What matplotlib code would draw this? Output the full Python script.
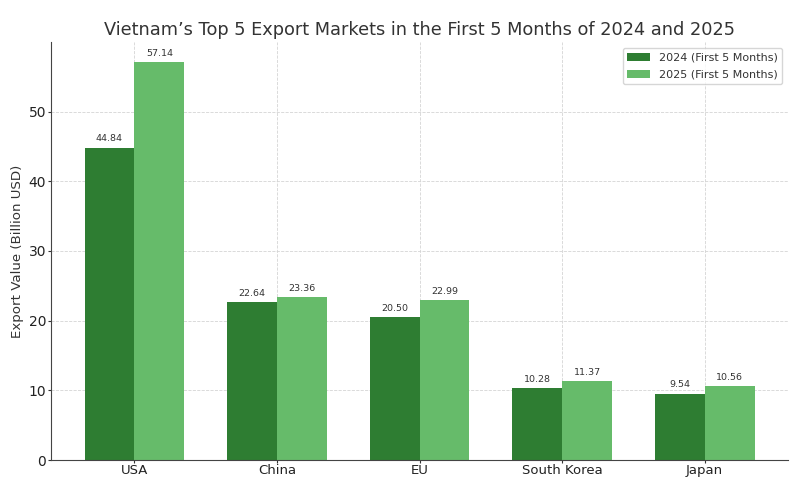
import matplotlib.pyplot as plt
import numpy as np

markets = ['USA', 'China', 'EU', 'South Korea', 'Japan']
values_2024 = [44.84, 22.64, 20.50, 10.28, 9.54]
values_2025 = [57.14, 23.36, 22.99, 11.37, 10.56]

x = np.arange(len(markets))
width = 0.35

fig, ax = plt.subplots(figsize=(8, 5), dpi=100)
bars1 = ax.bar(x - width / 2, values_2024, width, color='#2e7d32', label='2024 (First 5 Months)', zorder=2)
bars2 = ax.bar(x + width / 2, values_2025, width, color='#66bb6a', label='2025 (First 5 Months)', zorder=2)

for bars in (bars1, bars2):
    for b in bars:
        ax.annotate(f'{b.get_height():.2f}', (b.get_x() + b.get_width() / 2, b.get_height()),
                    xytext=(0, 3), textcoords='offset points', ha='center', va='bottom',
                    fontsize=6.8, color='#333333')

ax.set_title('Vietnam\u2019s Top 5 Export Markets in the First 5 Months of 2024 and 2025',
             fontsize=12.8, color='#333333', pad=5)
ax.set_ylabel('Export Value (Billion USD)', fontsize=9.6, color='#333333', labelpad=3)
ax.set_xticks(x, markets)
ax.tick_params(axis='x', labelsize=9.5, length=2, pad=1, color='#333333', labelcolor='#222222')
ax.tick_params(axis='y', labelsize=10, length=2, pad=1.5, color='#333333', labelcolor='#222222')
ax.grid(True, linestyle='--', linewidth=0.6, color='#d4d4d4', zorder=0)
ax.spines['top'].set_visible(False)
ax.spines['right'].set_visible(False)
ax.spines['left'].set_color('#444444')
ax.spines['bottom'].set_color('#444444')
ax.legend(loc='upper right', fontsize=8, borderaxespad=0.55, labelspacing=0.65, labelcolor='#333333')

fig.subplots_adjust(left=0.0638, right=0.985, top=0.916, bottom=0.08)
fig.savefig('out.png', dpi=100)
